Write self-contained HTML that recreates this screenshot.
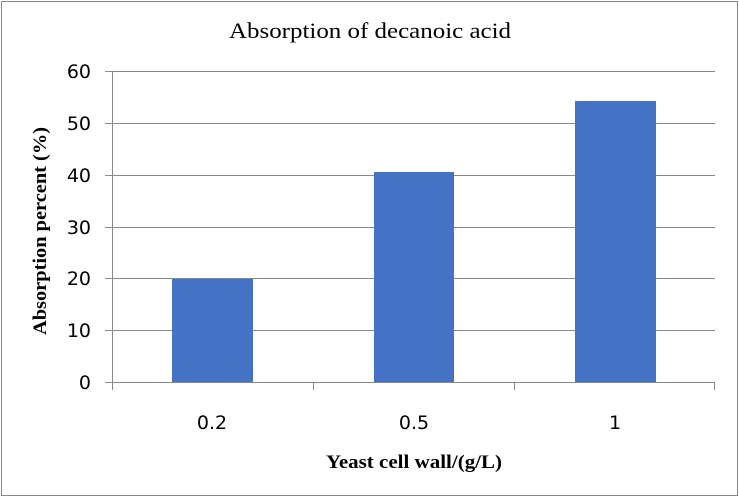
<!DOCTYPE html><html><head><style>body{margin:0;background:#fff}</style></head><body>
<svg width="739" height="497" xmlns="http://www.w3.org/2000/svg">
<rect x="1.5" y="1.5" width="736" height="494" fill="#fff" stroke="#888"/>
<text x="229" y="38" textLength="282" lengthAdjust="spacingAndGlyphs" font-family="Liberation Serif, serif" font-size="22">Absorption of decanoic acid</text>
<g stroke="#888" stroke-width="1">
<line x1="105" y1="71.5" x2="715" y2="71.5"/><line x1="105" y1="123.5" x2="715" y2="123.5"/>
<line x1="105" y1="175.5" x2="715" y2="175.5"/><line x1="105" y1="227.5" x2="715" y2="227.5"/>
<line x1="105" y1="278.5" x2="715" y2="278.5"/><line x1="105" y1="330.5" x2="715" y2="330.5"/>
<line x1="105" y1="382.5" x2="715" y2="382.5"/>
<line x1="112.5" y1="71" x2="112.5" y2="390"/>
<line x1="313.5" y1="382" x2="313.5" y2="390"/><line x1="514.5" y1="382" x2="514.5" y2="390"/><line x1="714.5" y1="382" x2="714.5" y2="390"/>
</g>
<g fill="#4472C4">
<rect x="172" y="279" width="81" height="103"/>
<rect x="374" y="172" width="80" height="210"/>
<rect x="575" y="101" width="81" height="281"/>
</g>
<g font-family="DejaVu Sans, sans-serif" font-size="19" text-anchor="end">
<text x="91" y="78">60</text><text x="91" y="130">50</text><text x="91" y="182">40</text>
<text x="91" y="234">30</text><text x="91" y="285">20</text><text x="91" y="337">10</text><text x="91" y="389">0</text>
</g>
<g font-family="DejaVu Sans, sans-serif" font-size="19" text-anchor="middle">
<text x="212" y="429">0.2</text><text x="414" y="429">0.5</text><text x="615" y="429">1</text>
</g>
<text x="326" y="468" textLength="176" lengthAdjust="spacingAndGlyphs" font-family="Liberation Serif, serif" font-weight="bold" font-size="19">Yeast cell wall/(g/L)</text>
<text transform="translate(46,335) rotate(-90)" textLength="208" lengthAdjust="spacingAndGlyphs" font-family="Liberation Serif, serif" font-weight="bold" font-size="19">Absorption percent (%)</text>
</svg></body></html>
